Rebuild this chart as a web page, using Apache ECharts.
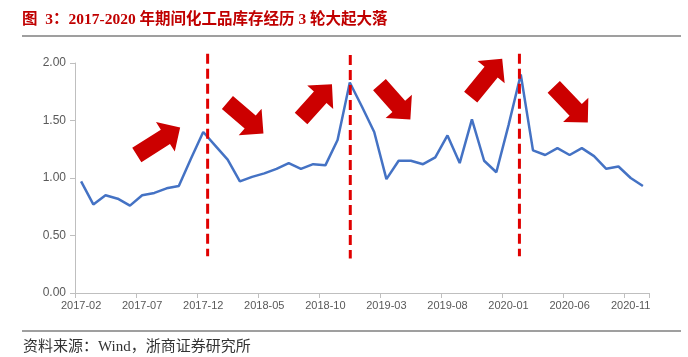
<!DOCTYPE html>
<html>
<head>
<meta charset="utf-8">
<script src="https://cdn.jsdelivr.net/npm/echarts@6/dist/echarts.min.js"></script>
<style>
html,body{margin:0;padding:0;background:#fff;}
#c{width:688px;height:357px;}
</style>
</head>
<body>
<div id="c"></div>
<script>
// ---- data ----
var categories = [];
(function(){
  for (var y = 2017; y <= 2020; y++) {
    for (var m = 1; m <= 12; m++) {
      if (y === 2017 && m < 2) continue;
      categories.push(y + '-' + (m < 10 ? '0' + m : '' + m));
    }
  }
})();
var inventoryValues = [
  0.97, 0.77, 0.85, 0.82, 0.76, 0.85, 0.87, 0.91, 0.93, 1.17, 1.40,
  1.28, 1.16, 0.97, 1.01, 1.04, 1.08, 1.13, 1.08, 1.12, 1.11, 1.33, 1.83,
  1.62, 1.40, 0.99, 1.15, 1.15, 1.12, 1.18, 1.37, 1.13, 1.51, 1.15, 1.05, 1.46, 1.90,
  1.24, 1.20, 1.26, 1.20, 1.26, 1.19, 1.08, 1.10, 1.00, 0.93
];
var yTicks = [0, 0.5, 1.0, 1.5, 2.0];

// annotations (data space: [category index, value])
var dashedLines = [
  {x: 10.36, from: 0.32, to: 2.08},
  {x: 22.04, from: 0.30, to: 2.07},
  {x: 35.89, from: 0.32, to: 2.08}
];
var arrows = [
  {tail: [4.56, 1.20], tip: [8.11, 1.44]},
  {tail: [11.98, 1.657], tip: [14.93, 1.388]},
  {tail: [18.01, 1.518], tip: [20.54, 1.815]},
  {tail: [24.43, 1.813], tip: [26.96, 1.509]},
  {tail: [31.9, 1.703], tip: [34.48, 2.038]},
  {tail: [38.7, 1.792], tip: [41.49, 1.483]}
];

var chart = echarts.init(document.getElementById('c'), null, {renderer: 'canvas'});
var labelFont = "'Liberation Sans', Arial, sans-serif";

chart.setOption({
  animation: false,
  backgroundColor: '#ffffff',
  grid: {left: 75, right: 39, top: 63, bottom: 64, containLabel: false},
  xAxis: {
    type: 'category',
    data: categories,
    boundaryGap: true,
    axisLine: {lineStyle: {color: '#bfbfbf', width: 1}},
    axisTick: {show: true, interval: 4, length: 5, lineStyle: {color: '#bfbfbf'}},
    axisLabel: {interval: 4, color: '#595959', fontSize: 11, fontFamily: labelFont, margin: 7},
    splitLine: {show: false}
  },
  yAxis: {
    type: 'value',
    min: yTicks[0],
    max: yTicks[yTicks.length - 1],
    interval: yTicks[1] - yTicks[0],
    axisLine: {show: true, lineStyle: {color: '#bfbfbf', width: 1}},
    axisTick: {show: true, length: 5, lineStyle: {color: '#bfbfbf'}},
    axisLabel: {color: '#595959', fontSize: 12, fontFamily: labelFont, margin: 9,
      formatter: function (v) { return v.toFixed(2); }},
    splitLine: {show: false}
  },
  series: [{
    type: 'line',
    data: inventoryValues,
    symbol: 'none',
    smooth: false,
    lineStyle: {color: '#4472C4', width: 2.5},
    z: 3
  }]
});

function toPx(idx, val) {
  var p0 = chart.convertToPixel({gridIndex: 0}, [0, val]);
  var p1 = chart.convertToPixel({gridIndex: 0}, [1, val]);
  return [p0[0] + (p1[0] - p0[0]) * idx, p0[1]];
}

var graphics = [];
// title
graphics.push({
  type: 'text', left: 22, top: 12, z: 10,
  style: {text: '图  3：2017-2020 年期间化工品库存经历 3 轮大起大落',
    font: "bold 15.5px 'Liberation Serif', 'Noto Sans CJK SC', serif", fill: '#c00000'}
});
graphics.push({type: 'line', z: 10, shape: {x1: 22, y1: 36, x2: 681, y2: 36},
  style: {stroke: '#7f7f7f', lineWidth: 1.5}});
graphics.push({type: 'line', z: 10, shape: {x1: 22, y1: 331, x2: 681, y2: 331},
  style: {stroke: '#7f7f7f', lineWidth: 1.5}});
graphics.push({
  type: 'text', left: 23, top: 340, z: 10,
  style: {text: '资料来源：Wind，浙商证券研究所',
    font: "15px 'Liberation Serif', 'Noto Sans CJK SC', serif", fill: '#333333'}
});

dashedLines.forEach(function (d) {
  var a = toPx(d.x, d.to), b = toPx(d.x, d.from);
  graphics.push({type: 'line', z: 5, shape: {x1: a[0], y1: a[1], x2: b[0], y2: b[1]},
    style: {stroke: '#e00000', lineWidth: 3, lineDash: [10, 5]}});
});

arrows.forEach(function (ar) {
  var T = toPx(ar.tail[0], ar.tail[1]);
  var P = toPx(ar.tip[0], ar.tip[1]);
  var dx = P[0] - T[0], dy = P[1] - T[1];
  var len = Math.sqrt(dx * dx + dy * dy);
  var ux = dx / len, uy = dy / len;
  var nx = -uy, ny = ux;
  var w = 8.5, h = 17.5, L = 17.5;
  var B = [P[0] - ux * L, P[1] - uy * L];
  var pts = [
    [T[0] + nx * w, T[1] + ny * w],
    [B[0] + nx * w, B[1] + ny * w],
    [B[0] + nx * h, B[1] + ny * h],
    [P[0], P[1]],
    [B[0] - nx * h, B[1] - ny * h],
    [B[0] - nx * w, B[1] - ny * w],
    [T[0] - nx * w, T[1] - ny * w]
  ];
  graphics.push({type: 'polygon', z: 6, shape: {points: pts}, style: {fill: '#cc0000'}});
});

chart.setOption({graphic: graphics});
</script>
</body>
</html>
